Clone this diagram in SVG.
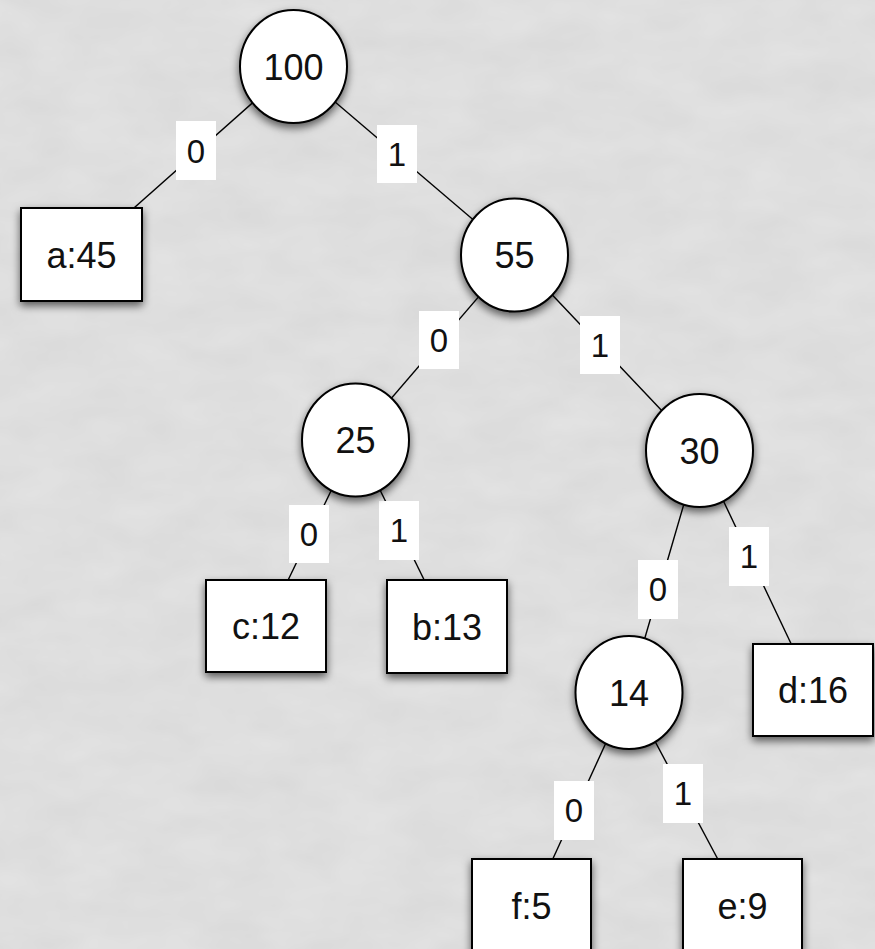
<svg xmlns="http://www.w3.org/2000/svg" width="875" height="949" viewBox="0 0 875 949">
  <defs>
    <filter id="shadow" x="-30%" y="-30%" width="160%" height="170%">
      <feDropShadow dx="0" dy="4" stdDeviation="4" flood-color="#000" flood-opacity="0.6"/>
    </filter>
    <filter id="grain" x="0" y="0" width="100%" height="100%">
      <feTurbulence type="fractalNoise" baseFrequency="0.015 0.03" numOctaves="3" seed="7" result="n"/>
      <feColorMatrix type="matrix" values="0 0 0 0 0  0 0 0 0 0  0 0 0 0 0  0 0 0 0.05 0" in="n"/>
    </filter>
  </defs>
  <style>
    .node { fill: #ffffff; stroke: #000000; stroke-width: 2; filter: url(#shadow); }
    .txt { font-family: "Liberation Sans", Arial, Helvetica, sans-serif; font-size: 36px; fill: #111111; text-anchor: middle; }
    .lbl { font-family: "Liberation Sans", Arial, Helvetica, sans-serif; font-size: 33px; fill: #111111; text-anchor: middle; }
    .edge { stroke: #000000; stroke-width: 1.4; fill: none; }
    .lblbox { fill: #ffffff; stroke: none; }
  </style>

  <rect x="0" y="0" width="875" height="949" fill="#e4e4e4"/>
  <rect x="0" y="0" width="875" height="949" filter="url(#grain)"/>

  <g id="connectors">
    <line class="edge" x1="293.5" y1="66.5" x2="81.5" y2="254.5"/>
    <line class="edge" x1="293.5" y1="66.5" x2="514.5" y2="255"/>
    <line class="edge" x1="514.5" y1="255" x2="355.5" y2="440"/>
    <line class="edge" x1="514.5" y1="255" x2="699.5" y2="450.5"/>
    <line class="edge" x1="355.5" y1="440" x2="266" y2="626"/>
    <line class="edge" x1="355.5" y1="440" x2="447" y2="626.5"/>
    <line class="edge" x1="699.5" y1="450.5" x2="629" y2="692.5"/>
    <line class="edge" x1="699.5" y1="450.5" x2="813" y2="690"/>
    <line class="edge" x1="629" y1="692.5" x2="531.5" y2="905.5"/>
    <line class="edge" x1="629" y1="692.5" x2="742.5" y2="905.5"/>

    <g id="label-100-0"><rect class="lblbox" x="176" y="121" width="40" height="59"/><text class="lbl" x="196" y="163">0</text></g>
    <g id="label-100-1"><rect class="lblbox" x="377" y="125" width="40" height="58"/><text class="lbl" x="397" y="166">1</text></g>
    <g id="label-55-0"><rect class="lblbox" x="419" y="311" width="40" height="58"/><text class="lbl" x="439" y="352">0</text></g>
    <g id="label-55-1"><rect class="lblbox" x="580" y="316" width="40" height="58"/><text class="lbl" x="600" y="357">1</text></g>
    <g id="label-25-0"><rect class="lblbox" x="289" y="505" width="40" height="58"/><text class="lbl" x="309" y="546">0</text></g>
    <g id="label-25-1"><rect class="lblbox" x="379" y="501" width="40" height="59"/><text class="lbl" x="399" y="542">1</text></g>
    <g id="label-30-0"><rect class="lblbox" x="638" y="560" width="40" height="59"/><text class="lbl" x="658" y="601">0</text></g>
    <g id="label-30-1"><rect class="lblbox" x="729" y="527" width="40" height="59"/><text class="lbl" x="749" y="568">1</text></g>
    <g id="label-14-0"><rect class="lblbox" x="554" y="781" width="40" height="59"/><text class="lbl" x="574" y="822">0</text></g>
    <g id="label-14-1"><rect class="lblbox" x="663" y="764" width="40" height="59"/><text class="lbl" x="683" y="805">1</text></g>
  </g>

  <g id="n100"><ellipse class="node" cx="293.5" cy="66.5" rx="53.5" ry="56.5"/><text class="txt" x="293.5" y="79.5">100</text></g>
  <g id="a45"><rect class="node" x="21" y="208" width="121" height="93"/><text class="txt" x="81.5" y="267.5">a:45</text></g>
  <g id="n55"><ellipse class="node" cx="514.5" cy="255" rx="53.5" ry="56.5"/><text class="txt" x="514.5" y="268">55</text></g>
  <g id="n25"><ellipse class="node" cx="355.5" cy="440" rx="53.5" ry="56.5"/><text class="txt" x="355.5" y="453">25</text></g>
  <g id="n30"><ellipse class="node" cx="699.5" cy="450.5" rx="53.5" ry="56.5"/><text class="txt" x="699.5" y="463.5">30</text></g>
  <g id="c12"><rect class="node" x="206" y="580" width="120" height="92"/><text class="txt" x="266" y="639">c:12</text></g>
  <g id="b13"><rect class="node" x="387" y="580" width="120" height="93"/><text class="txt" x="447" y="639.5">b:13</text></g>
  <g id="n14"><ellipse class="node" cx="629" cy="692.5" rx="53.5" ry="56.5"/><text class="txt" x="629" y="705.5">14</text></g>
  <g id="d16"><rect class="node" x="753" y="644" width="120" height="92"/><text class="txt" x="813" y="703">d:16</text></g>
  <g id="f5"><rect class="node" x="472" y="859" width="119" height="93"/><text class="txt" x="531.5" y="918.5">f:5</text></g>
  <g id="e9"><rect class="node" x="683" y="859" width="119" height="93"/><text class="txt" x="742.5" y="918.5">e:9</text></g>
</svg>
